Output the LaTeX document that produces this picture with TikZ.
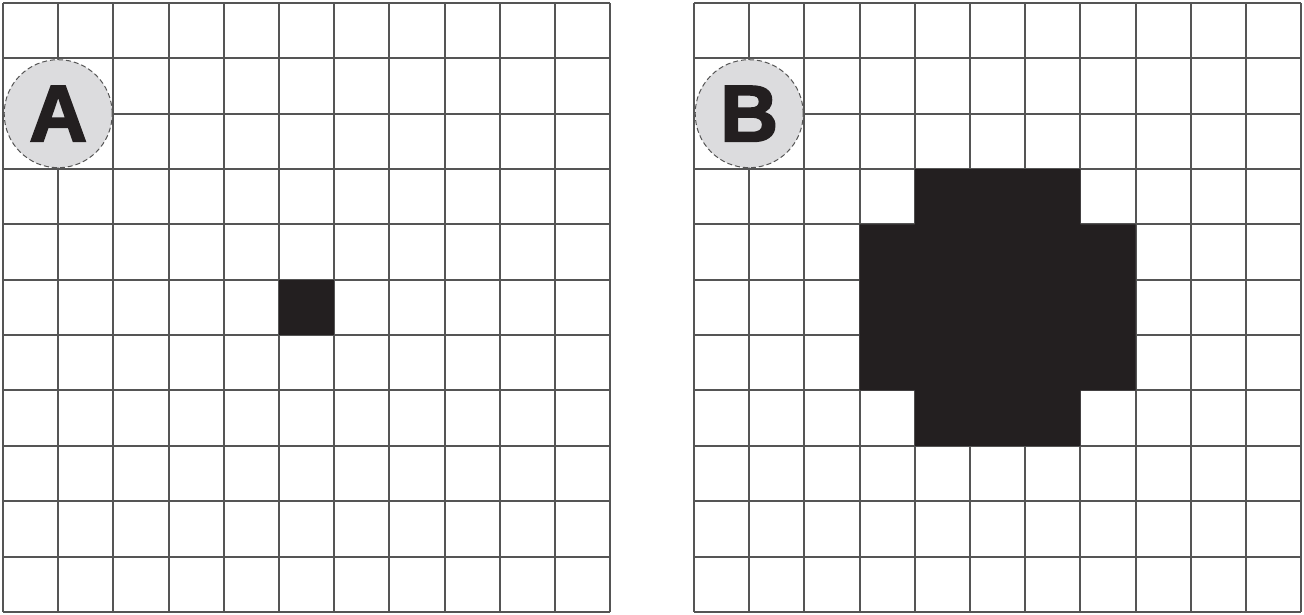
\documentclass[tikz,border=0pt]{standalone}
\usepackage{fontspec}
\setmainfont{Liberation Sans}
\newfontfamily\heavyfont[FakeBold=2.5]{Liberation Sans Bold}
\definecolor{gridc}{HTML}{555555}
\definecolor{inkc}{HTML}{231F20}
\definecolor{discc}{HTML}{DCDCDE}
\tikzset{
  gridline/.style={draw=gridc, line width=2pt},
  cellfill/.style={fill=inkc},
  disc/.style={circle, fill=discc, draw=gridc, line width=1pt, dash pattern=on 5pt off 3pt, minimum size=108pt, inner sep=0pt, font=\fontsize{80}{80}\selectfont\heavyfont, text=inkc}
}
\begin{document}
\begin{tikzpicture}[x=1pt,y=-1pt]
\useasboundingbox (0,0) rectangle (1304,614);
% left grid
\begin{scope}[shift={(3,3)}, x=55.2pt, y=-55.35pt]
  \foreach \i in {0,...,11} {
    \draw[gridline] (\i,0) -- (\i,11);
    \draw[gridline] (0,\i) -- (11,\i);
  }
  \fill[cellfill] (5,5) rectangle (6,6);
  \node[disc] (A) at (1,2) {A};
\end{scope}
% right grid
\begin{scope}[shift={(694,3)}, x=55.2pt, y=-55.35pt]
  \foreach \i in {0,...,11} {
    \draw[gridline] (\i,0) -- (\i,11);
    \draw[gridline] (0,\i) -- (11,\i);
  }
  \fill[cellfill] (4,3) -- (7,3) -- (7,4) -- (8,4) -- (8,7) -- (7,7) -- (7,8) -- (4,8) -- (4,7) -- (3,7) -- (3,4) -- (4,4) -- cycle;
  \node[disc] (B) at (1,2) {B};
\end{scope}
\end{tikzpicture}
\end{document}
